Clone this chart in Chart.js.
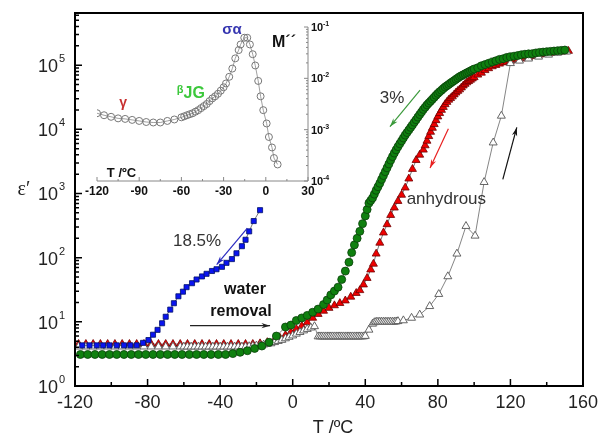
<!DOCTYPE html>
<html lang="en">
<head>
<meta charset="UTF-8">
<title>Permittivity vs T</title>
<script src="https://cdn.jsdelivr.net/npm/chart.js"></script>
<style>
    body { margin: 0; background: #fff; }
    #caixa { position: relative; width: 600px; height: 436px; }
    #caixa canvas { position: absolute; left: 0; top: 0; }
</style>
</head>
<body>
<div id="caixa">
    <canvas id="grafico" width="600" height="436"></canvas>
    <canvas id="inset" width="600" height="436"></canvas>
</div>

<script>
// ---- dados ----
// 18.5% (azul, quadrados)
const tAzul = [-116, -112, -108, -104.5, -101, -97, -93, -89.5, -86, -82.5, -79.5, -77, -74.5, -72, -70, -67.5, -65.5, -63, -60.5, -58.5,
    -55.5, -53, -50, -47.5, -44.5, -42, -39, -36.5, -33.5, -31, -28, -26, -24, -21.5, -18];
const epsAzul = [4.3, 4.3, 4.3, 4.3, 4.3, 4.3, 4.3, 4.3, 4.3, 4.7, 5.2, 6.3, 7.5, 9.5, 12, 15.5, 19.5, 25, 29.5, 34.7,
    40, 45.7, 51, 56, 62, 66, 72, 83, 95, 117, 151, 190, 257, 372, 550];

// 3% (verde, circulos)
const tVerde = [-117, -113, -109, -105, -101, -97, -93, -89, -85, -81, -77, -73, -69, -65, -61, -57, -53, -49, -45, -41, -37,
    -33, -29, -25, -21, -17, -13, -9, -4, -1, 2, 5, 8, 11, 14, 17, 19, 21, 23, 25, 27, 29, 31, 32.5, 34, 35.5, 37, 38.5, 40, 41,
    42, 43, 44, 45, 46, 47, 48, 49, 50, 51, 52, 53, 54, 55, 56, 57, 58, 59, 60, 61, 62, 63, 64, 65, 66, 67, 68, 69, 70,
    71, 72, 73, 74, 75, 76, 77, 78, 79, 80, 81, 82, 83, 84, 85, 86, 87, 88, 89, 90, 91, 92, 93, 94, 95, 96, 97, 98, 99, 100,
    102, 104, 106, 108, 110, 112, 114, 116, 118, 120, 122, 124, 126, 128, 130, 132, 134, 136, 138, 140, 142, 144, 146, 148, 150];
const epsVerde = [3.1, 3.1, 3.1, 3.1, 3.1, 3.1, 3.1, 3.1, 3.1, 3.1, 3.1, 3.1, 3.1, 3.1, 3.1, 3.1, 3.1, 3.1, 3.1, 3.1, 3.1,
    3.2, 3.35, 3.55, 3.85, 4.2, 4.8, 6.0, 8.3, 8.9, 10.5, 11.5, 12.6, 14.1, 15.8, 18.6, 21.9, 26.3, 30.2, 34.7, 45.7, 61.7, 85, 120, 158, 200, 257, 339, 447, 562,
    708, 776, 851, 977, 1122, 1274, 1445, 1660, 1905, 2188, 2512, 2884, 3311, 3758, 4266, 4786, 5370, 5957, 6607, 7328, 8128, 8913, 9772, 1.07e4, 1.17e4, 1.29e4, 1.41e4, 1.55e4, 1.70e4,
    1.86e4, 2.04e4, 2.21e4, 2.40e4, 2.57e4, 2.75e4, 2.95e4, 3.16e4, 3.39e4, 3.63e4, 3.85e4, 4.07e4, 4.32e4, 4.57e4, 4.79e4, 5.01e4, 5.25e4, 5.5e4, 5.75e4, 6.03e4, 6.31e4, 6.61e4, 6.84e4, 7.08e4, 7.33e4, 7.59e4, 7.85e4, 8.13e4, 8.41e4, 8.71e4,
    9.12e4, 9.77e4, 1.02e5, 1.07e5, 1.12e5, 1.17e5, 1.23e5, 1.26e5, 1.32e5, 1.35e5, 1.38e5, 1.41e5, 1.45e5, 1.48e5, 1.5e5, 1.51e5, 1.55e5, 1.58e5, 1.6e5, 1.62e5, 1.64e5, 1.66e5, 1.68e5, 1.70e5, 1.72e5];

// anidro, resfriamento (vermelho, triangulos cheios)
const tVermelho = [-118, -114, -110, -106, -102, -98, -94, -90, -86, -82, -78, -74, -70, -66, -62, -58, -54, -50, -46, -42, -38, -34, -30, -26, -22,
    -18, -14, -10, -7, -4, -1, 2, 5, 8, 11, 14, 17, 20, 23, 26, 29, 32, 35, 37, 39, 41, 43, 44.5, 46, 48, 50, 52, 54, 56, 58, 60,
    62, 64, 66, 68, 70, 72, 73, 74, 75, 76, 77, 78, 79, 80, 81, 82, 83, 84, 85, 86, 87, 88, 89, 90, 91, 92, 93, 94, 95, 96, 97, 98, 99, 100,
    102, 104, 106, 108, 110, 112, 114, 116, 118, 120, 122, 124, 126, 128, 130, 132, 134, 136, 138, 140, 142, 144, 146, 148, 150, 152];
const epsVermelho = [4.5, 4.5, 4.5, 4.5, 4.5, 4.5, 4.5, 4.5, 4.5, 4.5, 4.5, 4.5, 4.5, 4.5, 4.5, 4.5, 4.5, 4.5, 4.5, 4.5, 4.5, 4.5, 4.5, 4.5, 4.5,
    4.6, 4.8, 5.2, 5.6, 6.2, 6.9, 7.7, 8.6, 9.8, 11.5, 13.2, 14.8, 16.4, 18, 19.5, 21.4, 24.5, 28, 31, 38, 48, 65, 80, 115, 170, 245, 330, 460, 600, 760, 950,
    1230, 1700, 2400, 3300, 4000, 4800, 5600, 6600, 7800, 9100, 1.05e4, 1.2e4, 1.38e4, 1.58e4, 1.78e4, 2.0e4, 2.22e4, 2.45e4, 2.66e4, 2.88e4, 3.05e4, 3.24e4, 3.48e4, 3.72e4, 3.95e4, 4.17e4, 4.47e4, 4.79e4, 5.08e4, 5.37e4, 5.62e4, 5.89e4, 6.17e4, 6.46e4,
    7.08e4, 7.59e4, 8.32e4, 8.91e4, 9.55e4, 1.0e5, 1.05e5, 1.10e5, 1.12e5, 1.16e5, 1.2e5, 1.23e5, 1.26e5, 1.29e5, 1.33e5, 1.38e5, 1.41e5, 1.45e5, 1.48e5, 1.51e5, 1.55e5, 1.58e5, 1.6e5, 1.62e5, 1.64e5, 1.66e5];

// anidro, aquecimento (triangulos abertos)
const tAberto = [-118, -114, -110, -106, -102, -98, -94, -90, -86, -82, -78, -74, -70, -66, -62,
    -60, -58, -56, -54, -52, -50, -48, -46, -44, -42, -40, -38, -36, -34, -32, -30, -28, -26,
    -24, -22, -20, -18, -16, -14, -12, -10, -8, -6, -4, -2, 0, 2, 4, 6, 8, 10, 12,
    14, 15, 16, 17, 18, 19, 20, 21, 22, 23, 24, 25, 26, 27, 28, 29, 30, 31, 32, 33, 34, 35, 36, 37, 38, 39, 40,
    42, 44, 45, 46, 47, 48, 49, 50, 51, 52, 53, 54, 55, 56, 57, 58, 61, 65.5, 70, 75.5, 80.5, 85.5, 90.5, 95.5, 100.5, 105.5, 110.5, 115,
    120, 125, 130, 135.5, 141, 146, 151];
const epsAberto = [4.1, 4.1, 4.1, 4.1, 4.1, 4.1, 4.1, 4.1, 4.1, 4.1, 4.1, 4.1, 4.1, 4.1, 4.1,
    4.1, 4.1, 4.1, 4.1, 4.1, 4.1, 4.1, 4.1, 4.1, 4.1, 4.1, 4.1, 4.1, 4.1, 4.1, 4.1, 4.1, 4.1,
    4.15, 4.2, 4.25, 4.3, 4.4, 4.5, 4.6, 4.8, 5.0, 5.2, 5.5, 5.8, 6.1, 6.5, 6.9, 7.3, 7.7, 8.1, 8.5,
    5.9, 5.9, 5.9, 5.9, 5.9, 5.9, 5.9, 5.9, 5.9, 5.9, 5.9, 5.9, 5.9, 5.9, 5.9, 5.9, 5.9, 5.9, 5.9, 5.9, 5.9, 5.9, 5.9, 5.9, 5.9, 5.9, 6.0,
    7.5, 9.3, 9.8, 10, 10, 10, 10, 10, 10, 10, 10, 10, 10, 10, 10.1, 10.2, 10.5, 11.5, 12.9, 17.5, 27, 51, 115, 310, 219, 1500, 6200, 1.62e4,
    1.07e5, 1.17e5, 1.26e5, 1.35e5, 1.45e5, 1.55e5, 1.62e5];

// inset: M'' vs T
const tInset = [-120, -115, -110, -105, -100, -95, -90, -85, -80, -75, -70, -65, -60,
    -58, -56, -54, -52, -50, -48, -46, -44, -42, -40, -38, -36, -34, -32, -30,
    -28.3, -26, -23.8, -21.7, -19.3, -17.9, -15.3, -13.2, -11.3, -9.3, -7.5, -5.4, -3.7, -1.8, 0.6, 2.2, 4.4, 5.8, 8.4];
const mInset = [2.09e-3, 1.91e-3, 1.78e-3, 1.66e-3, 1.62e-3, 1.55e-3, 1.48e-3, 1.41e-3, 1.38e-3, 1.38e-3, 1.48e-3, 1.58e-3, 1.74e-3,
    1.82e-3, 1.91e-3, 2.0e-3, 2.09e-3, 2.24e-3, 2.4e-3, 2.63e-3, 2.88e-3, 3.16e-3, 3.6e-3, 4.07e-3, 4.47e-3, 5.0e-3, 5.75e-3, 6.7e-3,
    7.94e-3, 1.07e-2, 1.55e-2, 2.45e-2, 3.55e-2, 4.57e-2, 6.17e-2, 6.17e-2, 4.57e-2, 2.95e-2, 1.78e-2, 8.9e-3, 4.47e-3, 2.4e-3, 1.32e-3, 7.2e-4, 4.5e-4, 2.8e-4, 2.1e-4];

// eixos
const xTicks = [-120, -80, -40, 0, 40, 80, 120, 160];
const yDecadas = [0, 1, 2, 3, 4, 5];
const xTicksInset = [-120, -90, -60, -30, 0, 30];
const yDecadasInset = [-1, -2, -3, -4];

function pares(ts, vs) {
    return ts.map(function (t, i) { return { x: t, y: vs[i] }; });
}

function seta(ctx, x1, y1, x2, y2, cor) {
    const ang = Math.atan2(y2 - y1, x2 - x1);
    ctx.strokeStyle = cor;
    ctx.fillStyle = cor;
    ctx.lineWidth = 1.2;
    ctx.beginPath();
    ctx.moveTo(x1, y1);
    ctx.lineTo(x2, y2);
    ctx.stroke();
    ctx.beginPath();
    ctx.moveTo(x2, y2);
    ctx.lineTo(x2 - 9 * Math.cos(ang - 0.3), y2 - 9 * Math.sin(ang - 0.3));
    ctx.lineTo(x2 - 6 * Math.cos(ang), y2 - 6 * Math.sin(ang));
    ctx.lineTo(x2 - 9 * Math.cos(ang + 0.3), y2 - 9 * Math.sin(ang + 0.3));
    ctx.closePath();
    ctx.fill();
}

// desenha eixos, ticks para dentro e anotacoes do grafico principal
const decoPrincipal = {
    id: 'decoPrincipal',
    afterDraw(chart) {
        const ctx = chart.ctx;
        const a = chart.chartArea;
        const x = chart.scales.x, y = chart.scales.y;
        ctx.save();
        ctx.strokeStyle = '#000';
        ctx.lineWidth = 2;
        ctx.strokeRect(a.left, a.top, a.right - a.left, a.bottom - a.top);

        ctx.lineWidth = 1.5;
        ctx.beginPath();
        for (let t = -120; t <= 160; t += 20) {
            const px = x.getPixelForValue(t);
            const len = (t % 40 === 0) ? 7 : 4;
            ctx.moveTo(px, a.bottom);
            ctx.lineTo(px, a.bottom - len);
        }
        for (let e = 0; e <= 5; e++) {
            for (let m = 1; m <= 9; m++) {
                const py = y.getPixelForValue(m * Math.pow(10, e));
                if (py < a.top) continue;
                const len = m === 1 ? 7 : 4;
                ctx.moveTo(a.left, py);
                ctx.lineTo(a.left + len, py);
            }
        }
        ctx.stroke();

        ctx.fillStyle = '#222';
        ctx.font = '18px Arial';
        ctx.textAlign = 'center';
        ctx.textBaseline = 'middle';
        xTicks.forEach(function (t) {
            ctx.fillText(String(t), x.getPixelForValue(t), a.bottom + 17);
        });
        yDecadas.forEach(function (e) {
            const py = y.getPixelForValue(Math.pow(10, e));
            ctx.font = '18px Arial';
            ctx.textAlign = 'right';
            ctx.textBaseline = 'alphabetic';
            ctx.fillText('10', 58, py + 7);
            ctx.font = '11px Arial';
            ctx.textAlign = 'left';
            ctx.fillText(String(e), 59, py - 3);
        });

        ctx.font = '18px Arial';
        ctx.textAlign = 'center';
        ctx.textBaseline = 'middle';
        ctx.fillText('T /\u00baC', (a.left + a.right) / 2 + 4, 428);
        ctx.font = '20px "Times New Roman", "Liberation Serif", serif';
        ctx.fillText('\u03b5\u2032', 24, 190);

        // anotacoes
        ctx.font = '17px Arial';
        ctx.textAlign = 'left';
        ctx.fillStyle = '#333';
        ctx.fillText('3%', x.getPixelForValue(48), y.getPixelForValue(3.0e4));
        ctx.fillText('anhydrous', x.getPixelForValue(62.8), y.getPixelForValue(810));
        ctx.fillText('18.5%', x.getPixelForValue(-66), y.getPixelForValue(178));
        ctx.font = 'bold 16px Arial';
        ctx.textAlign = 'center';
        ctx.fillStyle = '#111';
        ctx.fillText('water', x.getPixelForValue(-26.3), y.getPixelForValue(31.6));
        ctx.fillText('removal', x.getPixelForValue(-28.5), y.getPixelForValue(14.5));

        seta(ctx, x.getPixelForValue(70.2), y.getPixelForValue(4.07e4), x.getPixelForValue(53.6), y.getPixelForValue(1.1e4), '#3c9a3c');
        seta(ctx, x.getPixelForValue(85.8), y.getPixelForValue(1.02e4), x.getPixelForValue(75.7), y.getPixelForValue(2500), '#e82020');
        seta(ctx, x.getPixelForValue(115.8), y.getPixelForValue(1660), x.getPixelForValue(123.5), y.getPixelForValue(1.07e4), '#111');
        seta(ctx, x.getPixelForValue(-25), y.getPixelForValue(288), x.getPixelForValue(-41.9), y.getPixelForValue(78), '#2a2ac0');
        seta(ctx, x.getPixelForValue(-56.6), y.getPixelForValue(8.7), x.getPixelForValue(-12.5), y.getPixelForValue(8.7), '#222');
        ctx.restore();
    }
};

// eixos e textos do inset
const decoInset = {
    id: 'decoInset',
    afterDraw(chart) {
        const ctx = chart.ctx;
        const a = chart.chartArea;
        const x = chart.scales.x, y = chart.scales.y;
        ctx.save();
        ctx.strokeStyle = '#888';
        ctx.lineWidth = 1;
        ctx.beginPath();
        ctx.moveTo(a.left, a.bottom);
        ctx.lineTo(a.right, a.bottom);
        ctx.lineTo(a.right, a.top);
        for (let t = -120; t <= 30; t += 15) {
            const px = x.getPixelForValue(t);
            const len = (t % 30 === 0) ? 4 : 2;
            ctx.moveTo(px, a.bottom);
            ctx.lineTo(px, a.bottom - len);
        }
        for (let e = -4; e <= -2; e++) {
            for (let m = 1; m <= 9; m++) {
                const py = y.getPixelForValue(m * Math.pow(10, e));
                const len = m === 1 ? 4 : 2;
                ctx.moveTo(a.right, py);
                ctx.lineTo(a.right - len, py);
            }
        }
        const pTop = y.getPixelForValue(0.1);
        ctx.moveTo(a.right, pTop);
        ctx.lineTo(a.right - 4, pTop);
        ctx.stroke();

        ctx.fillStyle = '#111';
        ctx.font = 'bold 12px Arial';
        ctx.textAlign = 'center';
        ctx.textBaseline = 'middle';
        xTicksInset.forEach(function (t) {
            ctx.fillText(String(t), x.getPixelForValue(t), a.bottom + 11);
        });
        yDecadasInset.forEach(function (e) {
            const py = y.getPixelForValue(Math.pow(10, e));
            ctx.font = 'bold 11px Arial';
            ctx.textAlign = 'left';
            ctx.textBaseline = 'alphabetic';
            ctx.fillText('10', a.right + 3, py + 4);
            ctx.font = 'bold 7px Arial';
            ctx.fillText(String(e), a.right + 15, py - 1);
        });

        ctx.textBaseline = 'middle';
        ctx.font = 'bold 13px Arial';
        ctx.fillText('T /\u00baC', x.getPixelForValue(-113), y.getPixelForValue(1.4e-4));
        ctx.font = 'bold 16px Arial';
        ctx.fillText('M\u00b4\u00b4', x.getPixelForValue(4.4), y.getPixelForValue(4.9e-2));

        ctx.fillStyle = '#c83030';
        ctx.font = 'bold 14px Arial';
        ctx.textAlign = 'center';
        ctx.fillText('\u03b3', x.getPixelForValue(-101.5), y.getPixelForValue(3.3e-3));
        ctx.fillStyle = '#3cc83c';
        ctx.font = 'bold 11px Arial';
        ctx.fillText('\u03b2', x.getPixelForValue(-61), y.getPixelForValue(5.9e-3));
        ctx.font = 'bold 16px Arial';
        ctx.textAlign = 'left';
        ctx.fillText('JG', x.getPixelForValue(-58.5), y.getPixelForValue(5.0e-3));
        ctx.fillStyle = '#3535b0';
        ctx.font = 'bold 15px Arial';
        ctx.textAlign = 'center';
        ctx.fillText('\u03c3\u03b1', x.getPixelForValue(-24), y.getPixelForValue(8.7e-2));
        ctx.restore();
    }
};

const principal = new Chart(document.getElementById('grafico'), {
    type: 'scatter',
    data: {
        datasets: [
            {
                label: '18.5%',
                data: pares(tAzul, epsAzul),
                showLine: true,
                borderColor: '#555',
                borderWidth: 0.8,
                pointStyle: 'rect',
                pointRadius: 3.6,
                pointBackgroundColor: '#0a14f0',
                pointBorderColor: '#00106a',
                pointBorderWidth: 0.8
            },
            {
                label: '3%',
                data: pares(tVerde, epsVerde),
                showLine: true,
                borderColor: '#555',
                borderWidth: 0.8,
                pointStyle: 'circle',
                pointRadius: 4,
                pointBackgroundColor: '#0f800f',
                pointBorderColor: '#0a400a',
                pointBorderWidth: 0.8
            },
            {
                label: 'anhydrous heating',
                data: pares(tAberto, epsAberto),
                showLine: true,
                borderColor: '#666',
                borderWidth: 0.8,
                pointStyle: 'triangle',
                pointRadius: 4.6,
                pointBackgroundColor: '#fff',
                pointBorderColor: '#555',
                pointBorderWidth: 0.9
            },
            {
                label: 'anhydrous',
                data: pares(tVermelho, epsVermelho),
                showLine: true,
                borderColor: '#555',
                borderWidth: 0.8,
                pointStyle: 'triangle',
                pointRadius: 4.6,
                pointBackgroundColor: '#ee0000',
                pointBorderColor: '#700000',
                pointBorderWidth: 0.8
            }
        ]
    },
    options: {
        responsive: false,
        animation: false,
        layout: { padding: { left: 75, right: 17, top: 13, bottom: 50 } },
        plugins: { legend: { display: false }, tooltip: { enabled: false } },
        scales: {
            x: { type: 'linear', min: -120, max: 160, display: false },
            y: { type: 'logarithmic', min: 1, max: 6.5e5, display: false }
        }
    },
    plugins: [decoPrincipal]
});

const inset = new Chart(document.getElementById('inset'), {
    type: 'scatter',
    data: {
        datasets: [{
            label: "M''",
            data: pares(tInset, mInset),
            showLine: true,
            borderColor: '#888',
            borderWidth: 0.8,
            pointStyle: 'circle',
            pointRadius: 3.5,
            pointBackgroundColor: 'rgba(255,255,255,0)',
            pointBorderColor: '#777',
            pointBorderWidth: 1
        }]
    },
    options: {
        responsive: false,
        animation: false,
        layout: { padding: { left: 97, right: 292, top: 27, bottom: 255 } },
        plugins: { legend: { display: false }, tooltip: { enabled: false } },
        scales: {
            x: { type: 'linear', min: -120, max: 30, display: false },
            y: { type: 'logarithmic', min: 1e-4, max: 1e-1, display: false }
        }
    },
    plugins: [decoInset]
});
</script>
</body>
</html>
